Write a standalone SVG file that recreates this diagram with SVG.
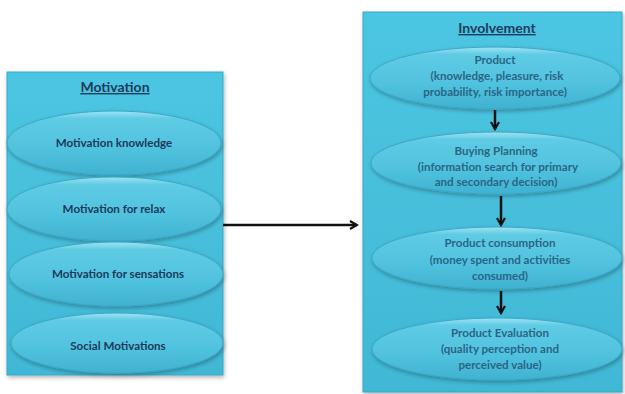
<svg xmlns="http://www.w3.org/2000/svg" width="625" height="394" viewBox="0 0 625 394">
<defs>
<linearGradient id="boxg" x1="0" y1="0" x2="0" y2="1">
<stop offset="0" stop-color="#4cc6e2"/>
<stop offset="1" stop-color="#41b8d5"/>
</linearGradient>
<linearGradient id="ellg" x1="0" y1="0" x2="0" y2="1">
<stop offset="0" stop-color="#9fe3f2"/>
<stop offset="0.12" stop-color="#5fcbe4"/>
<stop offset="0.6" stop-color="#50c2de"/>
<stop offset="1" stop-color="#3fb2d0"/>
</linearGradient>
<filter id="sh" x="-10%" y="-10%" width="120%" height="130%">
<feGaussianBlur in="SourceAlpha" stdDeviation="2"/>
<feOffset dx="1" dy="2"/>
<feComponentTransfer><feFuncA type="linear" slope="0.3"/></feComponentTransfer>
<feMerge><feMergeNode/><feMergeNode in="SourceGraphic"/></feMerge>
</filter>
<marker id="ah" viewBox="0 0 10 10" refX="8" refY="5" markerWidth="4" markerHeight="4" orient="auto">
<path d="M1,1 L8,5 L1,9" fill="none" stroke="#111" stroke-width="2.2"/>
</marker>
</defs>
<style>
.box{fill:url(#boxg);stroke:#37a8c6;stroke-width:1}
.ell{fill:url(#ellg);stroke:#3aa8c6;stroke-width:1}
.title{font-family:Lato,"Liberation Sans",sans-serif;font-weight:bold;font-size:14px;fill:#1f3b5c;text-anchor:middle;text-decoration:underline}
.lt{font-family:Lato,"Liberation Sans",sans-serif;font-weight:bold;font-size:11.6px;fill:#1c3a5c;text-anchor:middle}
.rt{font-family:Lato,"Liberation Sans",sans-serif;font-weight:bold;font-size:11.6px;fill:#2a6585;text-anchor:middle}
.conn{stroke:#111;stroke-width:2.5;fill:none}
</style>
<rect width="625" height="394" fill="#ffffff"/>
<g id="motivation">
<rect class="box" x="7" y="72" width="216" height="303" filter="url(#sh)"/>
<text class="title" x="115" y="92">Motivation</text>
</g>
<g id="motivation-knowledge">
<ellipse class="ell" cx="114" cy="143" rx="107" ry="32" filter="url(#sh)"/>
<text class="lt" x="114" y="147">Motivation knowledge</text>
</g>
<g id="motivation-relax">
<ellipse class="ell" cx="114" cy="209" rx="107" ry="32" filter="url(#sh)"/>
<text class="lt" x="114" y="213">Motivation for relax</text>
</g>
<g id="motivation-sensations">
<ellipse class="ell" cx="116" cy="274" rx="107" ry="32" filter="url(#sh)"/>
<text class="lt" x="118" y="278">Motivation for sensations</text>
</g>
<g id="social-motivations">
<ellipse class="ell" cx="117" cy="343" rx="106" ry="30" filter="url(#sh)"/>
<text class="lt" x="118" y="350">Social Motivations</text>
</g>
<g id="involvement">
<rect class="box" x="363" y="12" width="259" height="380" filter="url(#sh)"/>
<text class="title" x="497" y="33">Involvement</text>
</g>
<g id="product">
<ellipse class="ell" cx="495" cy="78" rx="125" ry="31" filter="url(#sh)"/>
<text class="rt" x="495" y="64">Product</text>
<text class="rt" x="497" y="80">(knowledge, pleasure, risk</text>
<text class="rt" x="495" y="96">probability, risk importance)</text>
</g>
<g id="buying-planning">
<ellipse class="ell" cx="496" cy="163" rx="125" ry="31" filter="url(#sh)"/>
<text class="rt" x="496" y="155">Buying Planning</text>
<text class="rt" x="498" y="171">(information search for primary</text>
<text class="rt" x="496" y="186">and secondary decision)</text>
</g>
<g id="product-consumption">
<ellipse class="ell" cx="497" cy="258" rx="125" ry="31" filter="url(#sh)"/>
<text class="rt" x="500" y="247">Product consumption</text>
<text class="rt" x="500" y="264">(money spent and activities</text>
<text class="rt" x="500" y="280">consumed)</text>
</g>
<g id="product-evaluation">
<ellipse class="ell" cx="497" cy="349" rx="125" ry="31" filter="url(#sh)"/>
<text class="rt" x="500" y="337">Product Evaluation</text>
<text class="rt" x="500" y="353">(quality perception and</text>
<text class="rt" x="500" y="369">perceived value)</text>
</g>
<g id="connectors">
<line class="conn" x1="223" y1="225" x2="357" y2="225" marker-end="url(#ah)"/>
<line class="conn" x1="495" y1="110" x2="495" y2="129" marker-end="url(#ah)"/>
<line class="conn" x1="501" y1="196" x2="501" y2="225" marker-end="url(#ah)"/>
<line class="conn" x1="501" y1="291" x2="501" y2="313" marker-end="url(#ah)"/>
</g>
</svg>
